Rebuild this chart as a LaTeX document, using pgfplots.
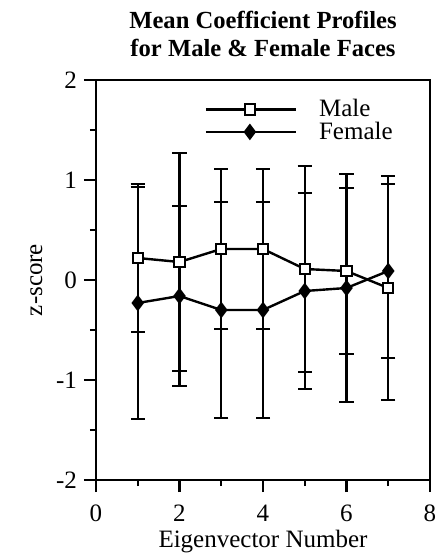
\documentclass[border=0pt]{standalone}
\usepackage{pgfplots}
\pgfplotsset{compat=1.18}
\usepackage{fontspec}
\setmainfont{Liberation Serif}

\begin{document}
\begin{tikzpicture}
\begin{axis}[
  scale only axis, width=167pt, height=200pt,
  xmin=0, xmax=8, ymin=-2, ymax=2,
  xtick={0,2,4,6,8}, minor xtick={1,3,5,7},
  ytick={-2,-1,0,1,2}, minor ytick={-1.5,-0.5,0.5,1.5},
  tick align=outside, tick pos=left,
  major tick length=6pt, minor tick length=3pt,
  every tick/.style={black, line width=1.2pt},
  axis line style={line width=1.4pt},
  /pgf/number format/assume math mode=true,
  tick label style={font=\fontsize{12.5}{14}\selectfont},
  label style={font=\fontsize{12.5}{14}\selectfont},
  xticklabel style={yshift=-3pt},
  xlabel={Eigenvector Number},
  ylabel={z-score},
  xlabel style={yshift=3pt},
  ylabel style={yshift=0pt},
  title={\textbf{Mean Coefficient Profiles}\\\textbf{for Male \& Female Faces}},
  title style={align=center, font=\fontsize{12.3}{14}\selectfont, yshift=2pt},
  legend style={draw=none, fill=none, at={(axis cs:2.45,1.87)}, anchor=north west,
    font=\fontsize{12.5}{9}\selectfont, row sep=-1pt,
    nodes={inner ysep=1pt, inner xsep=2pt}},
  legend cell align=left,
  legend image code/.code={\draw[mark repeat=2,mark phase=2,#1]
    plot coordinates {(0pt,0pt)(22pt,0pt)(45pt,0pt)};},
]
\addplot[black, line width=1.2pt, mark=square*, mark size=2.6pt,
  mark options={fill=white, line width=1pt},
  error bars/.cd, y dir=both, y explicit,
  error bar style={line width=1.2pt},
  error mark options={black, line width=1.4pt, mark size=3.6pt, rotate=90}]
coordinates {
(1,0.22) +- (0,0.74)
(2,0.18) +- (0,1.09)
(3,0.31) +- (0,0.80)
(4,0.31) +- (0,0.80)
(5,0.11) +- (0,1.03)
(6,0.09) +- (0,0.83)
(7,-0.08) +- (0,1.12)
};
\addlegendentry{\hspace{9pt}Male}
\addplot[black, line width=1.2pt, mark=diamond*, mark size=3.2pt,
  mark options={fill=black},
  error bars/.cd, y dir=both, y explicit,
  error bar style={line width=1.2pt},
  error mark options={black, line width=1.4pt, mark size=3.6pt, rotate=90}]
coordinates {
(1,-0.23) +- (0,1.16)
(2,-0.16) +- (0,0.90)
(3,-0.30) +- (0,1.08)
(4,-0.30) +- (0,1.08)
(5,-0.11) +- (0,0.98)
(6,-0.08) +- (0,1.14)
(7,0.09) +- (0,0.87)
};
\addlegendentry{\hspace{9pt}Female}
\end{axis}
\pgfresetboundingbox
\useasboundingbox (-48pt,-38.5pt) rectangle (170pt,240pt);
\end{tikzpicture}
\end{document}
